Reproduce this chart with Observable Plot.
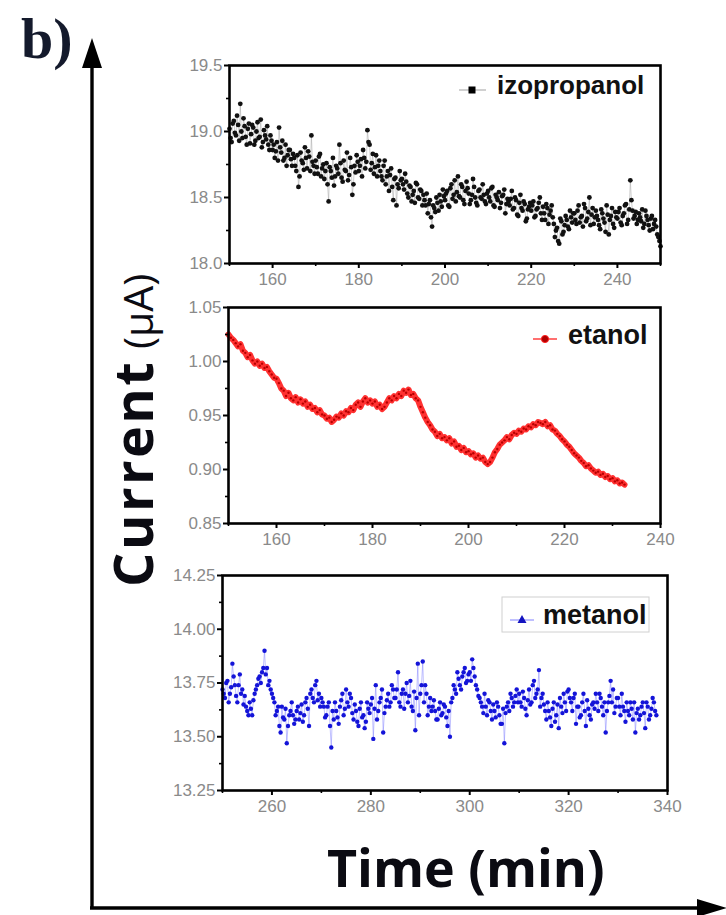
<!DOCTYPE html>
<html><head><meta charset="utf-8">
<script src="https://cdn.jsdelivr.net/npm/d3@7"></script>
<script src="https://cdn.jsdelivr.net/npm/@observablehq/plot@0.6"></script>
<style>
html,body{margin:0;padding:0;background:#fff;}
#wrap{position:relative;width:726px;height:915px;overflow:hidden;background:#fff;}
#wrap > svg{position:absolute;left:0;}
</style></head><body><div id="wrap"></div>
<script>
// ---------- data (time in minutes, current in µA) ----------
// samples on the half-minute grid (A) and the quarter-offset grid (B)
const izoStartA = 150, izoStartB = 150.25, izoStep = 0.5;
const izopropanolValuesA = [
 19.02,18.92,19.08,18.97,19.05,19.21,18.95,19.04,18.90,19.06,
 18.98,19.03,18.93,19.07,18.96,18.88,19.01,18.94,18.90,18.97,
 18.86,18.80,18.92,19.03,18.84,18.78,18.90,18.82,18.86,18.74,
 18.80,18.70,18.58,18.84,18.76,18.88,18.72,18.81,18.97,18.74,
 18.78,18.68,18.83,18.72,18.64,18.76,18.47,18.70,18.80,18.66,
 18.72,18.90,18.65,18.78,18.70,18.63,18.80,18.52,18.74,18.82,
 18.70,18.79,18.86,18.72,19.01,18.90,18.76,18.68,18.82,18.74,
 18.70,18.63,18.78,18.66,18.55,18.72,18.48,18.65,18.60,18.70,
 18.64,18.56,18.62,18.50,18.58,18.52,18.46,18.60,18.49,18.55,
 18.52,18.44,18.38,18.48,18.28,18.42,18.50,18.40,18.47,18.56,
 18.48,18.55,18.43,18.60,18.52,18.47,18.66,18.50,18.58,18.45,
 18.62,18.53,18.48,18.64,18.50,18.44,18.56,18.49,18.52,18.45,
 18.55,18.47,18.58,18.43,18.50,18.54,18.46,18.52,18.38,18.49,
 18.44,18.55,18.42,18.48,18.36,18.52,18.40,18.45,18.34,18.43,
 18.40,18.47,18.36,18.42,18.50,18.33,18.38,18.45,18.30,18.40,
 18.35,18.20,18.27,18.15,18.32,18.24,18.36,18.28,18.40,18.31,
 18.38,18.30,18.44,18.35,18.28,18.42,18.34,18.50,18.37,18.30,
 18.40,18.33,18.26,18.38,18.31,18.44,18.22,18.36,18.30,18.39,
 18.34,18.42,18.29,18.38,18.45,18.33,18.63,18.40,18.36,18.30,
 18.38,18.32,18.27,18.40,18.33,18.25,18.36,18.30,18.28,18.20,
 18.13
];
const izopropanolValuesB = [
 18.95,19.06,18.99,19.12,18.93,19.00,19.10,18.96,19.02,18.91,
 19.05,18.90,19.00,18.95,19.09,18.92,18.97,19.04,18.86,18.93,
 18.90,18.85,18.78,18.88,18.93,18.80,18.74,18.86,18.79,18.83,
 18.74,18.82,18.66,18.78,18.71,18.80,18.85,18.70,18.77,18.68,
 18.73,18.81,18.66,18.75,18.70,18.60,18.73,18.65,18.59,18.74,
 18.68,18.76,18.62,18.71,18.84,18.67,18.73,18.60,18.69,18.77,
 18.74,18.66,18.80,18.77,18.92,18.71,18.83,18.73,18.66,18.78,
 18.66,18.74,18.60,18.70,18.67,18.58,18.64,18.44,18.57,18.63,
 18.60,18.68,18.53,18.59,18.47,18.55,18.61,18.50,18.56,18.44,
 18.48,18.53,18.45,18.35,18.44,18.39,18.46,18.52,18.43,18.51,
 18.53,18.44,18.57,18.49,18.63,18.54,18.51,18.60,18.48,18.55,
 18.57,18.45,18.52,18.58,18.46,18.55,18.50,18.60,18.47,18.53,
 18.50,18.57,18.44,18.52,18.48,18.42,18.51,18.56,18.45,18.47,
 18.49,18.41,18.50,18.37,18.46,18.42,18.47,18.32,18.41,18.46,
 18.44,18.35,18.41,18.46,18.38,18.43,18.33,18.42,18.37,18.44,
 18.30,18.25,18.17,18.34,18.22,18.29,18.33,18.26,18.35,18.38,
 18.33,18.40,18.31,18.36,18.45,18.32,18.39,18.29,18.42,18.35,
 18.36,18.29,18.41,18.34,18.24,18.37,18.33,18.42,18.27,18.35,
 18.39,18.31,18.36,18.44,18.30,18.41,18.48,18.34,18.39,18.33,
 18.35,18.41,18.30,18.36,18.29,18.34,18.26,18.33,18.22,18.17
];

const etaStartA = 150, etaStep = 0.5;
const etanolValuesA = [
 1.025,1.022,1.020,1.017,1.014,1.016,1.010,1.008,1.004,1.006,
 1.001,0.998,1.000,0.996,0.998,0.994,0.995,0.991,0.988,0.985,
 0.984,0.980,0.975,0.973,0.968,0.971,0.966,0.964,0.967,0.962,
 0.965,0.961,0.963,0.958,0.960,0.956,0.957,0.953,0.955,0.951,
 0.950,0.947,0.948,0.944,0.946,0.949,0.948,0.952,0.950,0.954,
 0.953,0.957,0.955,0.960,0.962,0.958,0.963,0.966,0.962,0.964,
 0.961,0.963,0.958,0.960,0.956,0.958,0.962,0.966,0.964,0.968,
 0.966,0.970,0.968,0.973,0.971,0.974,0.969,0.970,0.966,0.964,
 0.958,0.953,0.948,0.944,0.941,0.937,0.935,0.931,0.933,0.929,
 0.930,0.927,0.929,0.924,0.926,0.921,0.922,0.918,0.920,0.916,
 0.917,0.914,0.915,0.911,0.913,0.910,0.911,0.907,0.905,0.907,
 0.911,0.916,0.919,0.923,0.925,0.927,0.930,0.928,0.932,0.934,
 0.933,0.936,0.935,0.938,0.937,0.940,0.939,0.942,0.941,0.944,
 0.943,0.942,0.944,0.940,0.941,0.937,0.936,0.933,0.931,0.928,
 0.926,0.923,0.921,0.918,0.915,0.913,0.911,0.908,0.906,0.903,
 0.904,0.901,0.899,0.897,0.898,0.895,0.896,0.893,0.894,0.891,
 0.892,0.889,0.890,0.887,0.888,0.886
];

const metStartA = 250, metStartB = 250.25, metStep = 0.5;
const metanolValuesA = [
 13.72,13.68,13.76,13.70,13.84,13.74,13.66,13.79,13.72,13.69,
 13.62,13.66,13.60,13.70,13.74,13.78,13.80,13.90,13.82,13.76,
 13.70,13.66,13.62,13.55,13.64,13.58,13.47,13.60,13.66,13.56,
 13.62,13.58,13.65,13.60,13.68,13.55,13.72,13.66,13.76,13.70,
 13.68,13.64,13.60,13.66,13.45,13.58,13.62,13.56,13.67,13.60,
 13.72,13.64,13.68,13.58,13.62,13.55,13.66,13.60,13.57,13.63,
 13.65,13.49,13.74,13.62,13.68,13.52,13.64,13.70,13.66,13.72,
 13.68,13.80,13.64,13.72,13.70,13.66,13.76,13.62,13.53,13.84,
 13.70,13.85,13.74,13.60,13.68,13.64,13.62,13.58,13.66,13.61,
 13.64,13.55,13.50,13.68,13.72,13.80,13.74,13.78,13.82,13.76,
 13.80,13.86,13.78,13.72,13.68,13.64,13.70,13.60,13.66,13.58,
 13.62,13.66,13.60,13.56,13.47,13.64,13.62,13.68,13.66,13.72,
 13.70,13.64,13.68,13.60,13.72,13.66,13.76,13.70,13.81,13.68,
 13.65,13.58,13.62,13.55,13.66,13.60,13.54,13.64,13.70,13.62,
 13.72,13.66,13.68,13.56,13.64,13.60,13.70,13.55,13.63,13.58,
 13.66,13.70,13.62,13.68,13.60,13.52,13.66,13.76,13.72,13.64,
 13.68,13.60,13.64,13.57,13.62,13.66,13.58,13.52,13.63,13.60,
 13.66,13.54,13.64,13.60,13.68,13.62
];
const metanolValuesB = [
 13.70,13.75,13.66,13.73,13.78,13.69,13.74,13.70,13.65,13.64,
 13.60,13.63,13.67,13.72,13.77,13.75,13.82,13.79,13.74,13.72,
 13.68,13.60,13.64,13.52,13.59,13.63,13.55,13.62,13.60,13.58,
 13.64,13.61,13.57,13.66,13.63,13.70,13.68,13.74,13.67,13.64,
 13.66,13.59,13.64,13.55,13.62,13.66,13.59,13.64,13.70,13.63,
 13.66,13.70,13.61,13.65,13.57,13.63,13.59,13.54,13.66,13.61,
 13.68,13.63,13.58,13.66,13.72,13.61,13.67,13.64,13.74,13.68,
 13.72,13.66,13.70,13.63,13.75,13.69,13.64,13.71,13.68,13.60,
 13.74,13.66,13.70,13.64,13.62,13.67,13.58,13.63,13.60,13.65,
 13.59,13.62,13.66,13.74,13.70,13.77,13.72,13.80,13.75,13.79,
 13.76,13.82,13.74,13.69,13.66,13.61,13.64,13.67,13.62,13.65,
 13.59,13.64,13.56,13.63,13.61,13.66,13.70,13.64,13.69,13.66,
 13.66,13.71,13.63,13.67,13.65,13.74,13.68,13.72,13.64,13.70,
 13.62,13.66,13.59,13.63,13.57,13.65,13.68,13.61,13.66,13.71,
 13.68,13.62,13.70,13.64,13.59,13.66,13.62,13.67,13.60,13.65,
 13.63,13.66,13.70,13.64,13.66,13.62,13.69,13.66,13.61,13.68,
 13.64,13.70,13.62,13.66,13.60,13.63,13.66,13.61,13.58,13.64,
 13.61,13.66,13.58,13.63,13.66,13.60
];

// tick labels / domains
const izoXDomain = [150, 250], izoXMajor = [160, 180, 200, 220, 240], izoXMinor = [150, 170, 190, 210, 230, 250];
const izoYDomain = [18.0, 19.5], izoYMajor = [18.0, 18.5, 19.0, 19.5], izoYMinor = [18.25, 18.75, 19.25];
const etaXDomain = [150, 240], etaXMajor = [160, 180, 200, 220, 240], etaXMinor = [150, 170, 190, 210, 230];
const etaYDomain = [0.85, 1.05], etaYMajor = [0.85, 0.90, 0.95, 1.00, 1.05], etaYMinor = [0.875, 0.925, 0.975, 1.025];
const metXDomain = [250, 340], metXMajor = [260, 280, 300, 320, 340], metXMinor = [250, 270, 290, 310, 330];
const metYDomain = [13.25, 14.25], metYMajor = [13.25, 13.50, 13.75, 14.00, 14.25], metYMinor = [13.375, 13.625, 13.875, 14.125];

const seriesNames = ["izopropanol", "etanol", "metanol"];
const axisTitles = {y: "Current", yUnit: " (μA)", x: "Time (min)", tag: "b)"};

// ---------- drawing ----------
const wrap = document.getElementById("wrap");
const TICK_FILL = "#8a8a8a";

function toRows(values, start, step) {
  return values.map((v, i) => ({t: start + i * step, v}));
}

function panel(cfg) {
  const data = cfg.series.flatMap(s => toRows(s.values, s.start, s.step)).sort((a, b) => a.t - b.t);
  const svg = Plot.plot({
    width: 726, height: cfg.height,
    marginTop: cfg.mt, marginBottom: cfg.mb, marginLeft: cfg.ml, marginRight: cfg.mr,
    style: {background: "transparent", fontFamily: "'Liberation Sans', Arial, sans-serif", fontSize: "17px", overflow: "visible"},
    x: {domain: cfg.xDomain},
    y: {domain: cfg.yDomain},
    marks: [
      Plot.line(data, {x: "t", y: "v", ...cfg.line}),
      Plot.dot(data, {x: "t", y: "v", ...cfg.dot}),
      Plot.axisX(cfg.xMajor, {tickSize: 5, tickPadding: 4, stroke: "#000", strokeWidth: 2, fill: TICK_FILL, label: null, tickFormat: d => String(d)}),
      Plot.axisX(cfg.xMinor, {tickSize: 3, stroke: "#000", strokeWidth: 1.6, label: null, tickFormat: () => ""}),
      Plot.axisY(cfg.yMajor, {tickSize: 5, tickPadding: 2, stroke: "#000", strokeWidth: 2, fill: TICK_FILL, label: null, tickFormat: d3.format(cfg.yFmt)}),
      Plot.axisY(cfg.yMinor, {tickSize: 3, stroke: "#000", strokeWidth: 1.6, label: null, tickFormat: () => ""}),
      Plot.frame({stroke: "#000", strokeWidth: 2.6})
    ]
  });
  svg.style.top = cfg.top + "px";
  wrap.appendChild(svg);
}

panel({series: [{values: izopropanolValuesA, start: izoStartA, step: izoStep}, {values: izopropanolValuesB, start: izoStartB, step: izoStep}],
  xDomain: izoXDomain, xMajor: izoXMajor, xMinor: izoXMinor,
  yDomain: izoYDomain, yMajor: izoYMajor, yMinor: izoYMinor, yFmt: ".1f",
  top: 45, height: 255, mt: 20, mb: 37, ml: 229, mr: 66,
  line: {stroke: "#a0a0a0", strokeWidth: 0.5},
  dot: {fill: "#111", r: 2.4}});

panel({series: [{values: etanolValuesA, start: etaStartA, step: etaStep}],
  xDomain: etaXDomain, xMajor: etaXMajor, xMinor: etaXMinor,
  yDomain: etaYDomain, yMajor: etaYMajor, yMinor: etaYMinor, yFmt: ".2f",
  top: 295, height: 260, mt: 12, mb: 32, ml: 228, mr: 66,
  line: {stroke: "#ff1f1f", strokeWidth: 6, strokeOpacity: 0.92},
  dot: {fill: "#b80000", r: 1.2}});

panel({series: [{values: metanolValuesA, start: metStartA, step: metStep}, {values: metanolValuesB, start: metStartB, step: metStep}],
  xDomain: metXDomain, xMajor: metXMajor, xMinor: metXMinor,
  yDomain: metYDomain, yMajor: metYMajor, yMinor: metYMinor, yFmt: ".2f",
  top: 563, height: 262, mt: 12, mb: 35, ml: 222, mr: 59,
  line: {stroke: "#6a6aff", strokeWidth: 0.6, strokeOpacity: 0.7},
  dot: {fill: "#1414d8", r: 2.2}});

// ---------- decorations: arrows, titles, legends ----------
const NS = "http://www.w3.org/2000/svg";
const deco = document.createElementNS(NS, "svg");
deco.setAttribute("width", 726); deco.setAttribute("height", 915);
deco.style.top = "0px";
deco.innerHTML = `
  <line x1="92" y1="62" x2="92" y2="908" stroke="#000" stroke-width="3.4"/>
  <polygon points="92,38 82,68 102,68" fill="#000"/>
  <line x1="90" y1="908" x2="700" y2="908" stroke="#000" stroke-width="3.4"/>
  <polygon points="727,908 697,899 697,917" fill="#000"/>
  <text x="21" y="58" font-family="'Liberation Serif','DejaVu Serif',serif" font-weight="bold" font-size="58" fill="#141a2c">${axisTitles.tag}</text>
  <text transform="translate(153,587) rotate(-90)" font-family="'Open Sans',sans-serif" fill="#0b0b12"><tspan font-weight="bold" font-size="54" letter-spacing="2.5">${axisTitles.y}</tspan><tspan font-weight="normal" font-size="41">${axisTitles.yUnit}</tspan></text>
  <text x="327" y="887" font-family="'Open Sans',sans-serif" font-weight="bold" font-size="52" fill="#0b0b12">${axisTitles.x}</text>

  <line x1="459" y1="90" x2="486" y2="90" stroke="#b0b0b0" stroke-width="1.2"/>
  <rect x="468.5" y="86.5" width="7" height="7" fill="#000"/>
  <text x="497" y="94" font-family="'Liberation Sans',Arial,sans-serif" font-weight="bold" font-size="26" fill="#111">${seriesNames[0]}</text>

  <line x1="533" y1="339" x2="557" y2="339" stroke="#ff4040" stroke-width="1.5"/>
  <circle cx="545" cy="339" r="3.6" fill="#b00000" stroke="#ff2020" stroke-width="1"/>
  <text x="568" y="344" font-family="'Liberation Sans',Arial,sans-serif" font-weight="bold" font-size="27" fill="#111">${seriesNames[1]}</text>

  <rect x="502" y="597" width="147" height="35" fill="#fff" stroke="#d0d0d0" stroke-width="1"/>
  <line x1="510" y1="620" x2="534" y2="620" stroke="#8080ff" stroke-width="1"/>
  <polygon points="522,615 517.5,623 526.5,623" fill="#1414c0"/>
  <text x="543" y="624" font-family="'Liberation Sans',Arial,sans-serif" font-weight="bold" font-size="27" fill="#111">${seriesNames[2]}</text>
`;
wrap.appendChild(deco);
</script>
</body></html>
